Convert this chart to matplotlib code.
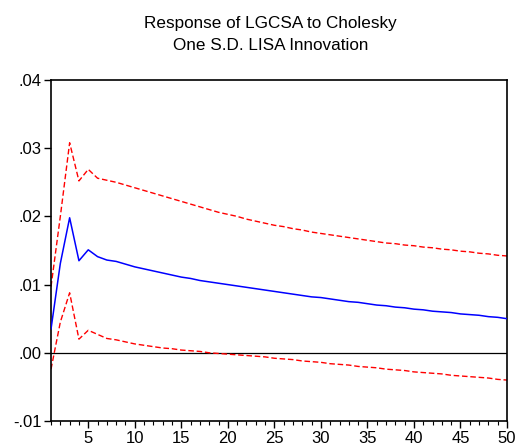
import matplotlib
matplotlib.use("Agg")
import matplotlib.pyplot as plt
from matplotlib.ticker import FixedLocator, MultipleLocator, FuncFormatter

periods = list(range(1, 51))
response = [0.0035, 0.0131, 0.0198, 0.0135, 0.0151, 0.0141, 0.0136, 0.0134, 0.0130, 0.0126,
            0.0123, 0.0120, 0.0117, 0.0114, 0.0111, 0.0109, 0.0106, 0.0104, 0.0102, 0.0100,
            0.0098, 0.0096, 0.0094, 0.0092, 0.0090, 0.0088, 0.0086, 0.0084, 0.0082, 0.0081,
            0.0079, 0.0077, 0.0075, 0.0074, 0.0072, 0.0070, 0.0069, 0.0067, 0.0066, 0.0064,
            0.0063, 0.0061, 0.0060, 0.0059, 0.0057, 0.0056, 0.0055, 0.0053, 0.0052, 0.0050]
upper = [0.0097, 0.0200, 0.0308, 0.0252, 0.0269, 0.0256, 0.0253, 0.0250, 0.0246, 0.0242,
         0.0238, 0.0234, 0.0230, 0.0226, 0.0222, 0.0218, 0.0214, 0.0210, 0.0206, 0.0203,
         0.0200, 0.0196, 0.0193, 0.0190, 0.0187, 0.0185, 0.0182, 0.0180, 0.0177, 0.0175,
         0.0173, 0.0171, 0.0169, 0.0167, 0.0165, 0.0163, 0.0161, 0.0160, 0.0158, 0.0157,
         0.0155, 0.0154, 0.0152, 0.0151, 0.0149, 0.0148, 0.0146, 0.0145, 0.0143, 0.0142]
lower = [-0.0024, 0.0045, 0.0088, 0.0020, 0.0033, 0.0027, 0.0021, 0.0019, 0.0016, 0.0013,
         0.0011, 0.0009, 0.0007, 0.0006, 0.0004, 0.0003, 0.0002, 0.0000, -0.0001, -0.0002,
         -0.0003, -0.0004, -0.0005, -0.0006, -0.0008, -0.0009, -0.0010, -0.0012, -0.0013, -0.0014,
         -0.0016, -0.0017, -0.0018, -0.0020, -0.0021, -0.0022, -0.0024, -0.0025, -0.0026, -0.0028,
         -0.0029, -0.0030, -0.0031, -0.0033, -0.0034, -0.0035, -0.0036, -0.0037, -0.0039, -0.0040]
yticks = [-0.01, 0.00, 0.01, 0.02, 0.03, 0.04]
xticks = [5, 10, 15, 20, 25, 30, 35, 40, 45, 50]
title = "Response of LGCSA to Cholesky\nOne S.D. LISA Innovation"

plt.rcParams['font.family'] = ['Liberation Sans', 'DejaVu Sans']

fig = plt.figure(figsize=(5.18, 4.48), dpi=100)
ax = fig.add_axes([0.0985, 0.0603, 0.8803, 0.7611])

ax.axhline(0, color='black', lw=0.9, zorder=1)
ax.plot(periods, response, color='#0000ff', lw=1.1, zorder=3)
ax.plot(periods, upper, color='#ff0000', lw=1.0, ls=(0, (4, 2)), zorder=2)
ax.plot(periods, lower, color='#ff0000', lw=1.0, ls=(0, (4, 2)), zorder=2)

ax.set_xlim(1, 50)
ax.set_ylim(-0.01, 0.04)
ax.xaxis.set_major_locator(FixedLocator(xticks))
ax.xaxis.set_minor_locator(MultipleLocator(1))
ax.yaxis.set_major_locator(FixedLocator(yticks))

def yfmt(v, pos):
    s = f"{v:.2f}"
    return s.replace("0.", ".", 1)
ax.yaxis.set_major_formatter(FuncFormatter(yfmt))

for sp in ax.spines.values():
    sp.set_linewidth(1.2)
ax.tick_params(axis='both', which='major', direction='out', length=5, width=1.0,
               labelsize=12, colors='black', pad=2)
ax.tick_params(axis='x', which='minor', direction='out', length=3, width=0.8)
ax.tick_params(axis='y', which='minor', length=0)

fig.text(0.522, 0.965, title, ha='center', va='top', fontsize=12.3, linespacing=1.6)

fig.savefig("out.png", dpi=100)
